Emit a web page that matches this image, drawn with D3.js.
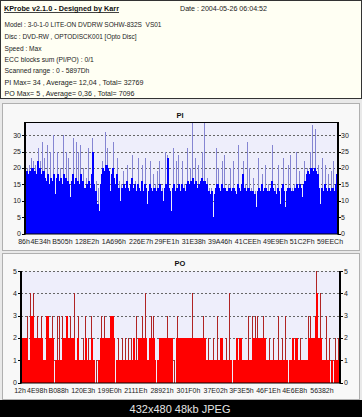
<!DOCTYPE html>
<html><head><meta charset="utf-8">
<script src="https://cdn.jsdelivr.net/npm/d3@7/dist/d3.min.js"></script>
<style>body{margin:0;background:#000}svg{display:block}</style>
</head><body><svg id="c" width="362" height="417"></svg>
<script>
// ---------- data ----------
const headerTitle = "KProbe v2.1.0 - Designed by Karr";
const headerDate = "Date : 2004-05-26 06:04:52";
const infoLines = [
  "Model : 3-0-1-0 LITE-ON DVDRW SOHW-832S  VS01",
  "Disc : DVD-RW , OPTODISCK001 [Opto Disc]",
  "Speed : Max",
  "ECC blocks sum (PI/PO) : 0/1",
  "Scanned range : 0 - 5897Dh",
  "PI Max= 34 , Average= 12,04 , Total= 32769",
  "PO Max= 5 , Average= 0,36 , Total= 7096"
];
const footerText = "432x480 48kb JPEG";

const piTitle = "PI";
const piValues = [
25,19,20,18,21,19,23,20,22,19,21,18,22,26,20,22,18,28,19,23,
17,16,27,18,15,25,17,16,30,18,12,17,25,18,16,20,17,15,30,18,
17,25,16,23,15,11,16,18,29,15,17,28,16,25,15,27,18,16,20,14,
14,17,15,26,16,14,18,29,25,15,13,16,9,14,7,15,18,22,20,19,
31,21,26,20,19,13,18,20,28,17,15,18,23,14,16,10,15,14,19,15,
14,16,21,14,13,15,17,24,14,15,16,13,15,23,14,13,16,21,13,15,
23,14,9,13,15,22,14,13,18,14,15,13,19,14,22,15,13,14,10,14,
25,15,24,23,14,13,7,14,26,15,13,22,14,24,15,13,15,22,14,15,
13,15,26,16,15,20,16,34,17,15,23,16,14,21,15,16,17,25,16,34,
16,15,17,13,14,12,14,13,5,12,14,26,15,20,14,13,15,22,14,24,
14,13,13,15,14,20,13,14,22,14,13,12,15,27,14,13,15,18,22,14,
15,13,28,14,20,13,14,13,17,12,13,8,13,23,14,13,15,18,13,14,
21,14,13,15,13,14,16,27,14,13,15,12,14,21,13,9,14,15,23,13,
8,13,14,21,14,24,13,14,13,15,14,25,15,14,19,15,14,11,15,22,
16,18,20,19,18,25,20,33,19,20,32,19,18,21,14,9,14,23,13,15,
21,14,13,18,14,13,19,14,22,13,15,18,21
];
const piYTicks = [0,5,10,15,20,25,30];
const piYMax = 34;
const piXLabels = ["86h","4E34h","B505h","128E2h","1A696h","226E7h","29FE1h","31E38h","39A46h","41CEEh","49E9Eh","51C2Fh","59EECh"];
const piSectorRange = [1300, 378000];

const poTitle = "PO";
const poValues = [
2,2,2,2,2,2,3,1,1,4,3,3,4,2,2,2,3,2,2,2,
3,2,1,1,1,3,3,3,2,2,2,3,2,0,1,1,3,1,3,1,
1,3,2,2,2,3,3,2,2,3,2,2,2,4,1,1,2,3,1,1,
1,1,2,1,3,2,1,2,1,1,3,2,1,1,0,1,0,1,1,2,
3,2,2,3,2,2,2,2,2,3,3,3,3,2,0,1,1,2,1,1,
1,2,1,1,2,1,1,2,1,1,2,1,2,2,1,3,1,2,2,2,
2,3,2,2,4,2,1,1,2,2,3,2,3,2,1,0,1,1,2,2,
2,2,2,2,2,2,3,2,2,2,2,2,0,1,0,2,3,2,2,2,
2,2,2,2,2,2,2,2,2,2,2,4,2,2,2,2,2,2,2,2,
2,2,3,2,2,1,1,2,1,1,1,1,2,1,1,1,3,1,1,2,
2,2,1,1,1,2,1,1,4,1,1,0,1,1,1,2,2,1,2,2,
2,1,1,1,1,1,1,3,1,1,1,3,2,2,3,2,3,2,2,2,
2,2,3,2,2,1,1,1,2,1,1,1,2,1,1,1,1,3,1,1,
1,2,1,1,3,1,1,0,1,1,1,2,2,1,2,2,2,1,1,2,
1,1,1,1,1,1,1,3,2,3,2,2,2,2,3,5,4,2,2,4,
2,1,1,1,1,3,1,1,2,0,1,1,0,1,2,1,1,2,1
];
const poYTicks = [0,1,2,3,4,5];
const poYMax = 5;
const poXLabels = ["12h","4E98h","B088h","120E3h","199E0h","2111Eh","28921h","301F0h","37E02h","3F3E5h","46F1Eh","4E6E8h","56382h"];
const poSectorRange = [1200, 374300];

// ---------- layout / style ----------
const FONT = "'Liberation Sans', Arial, sans-serif";
const infoWidths = [157, 132, 37, null, null, 139, 130];
const infoBaselines = [27.3, 39, 50.6, 62, 73.4, 84.8, 96.3];

const svg = d3.select("#c");
svg.append("rect").attr("width",362).attr("height",417).attr("fill","#e9e9e9");

svg.append("rect").attr("x",0.5).attr("y",0.5).attr("width",361).attr("height",98)
  .attr("fill","#fffff3").attr("stroke","#333").attr("stroke-width",1);
svg.append("text").attr("x",4).attr("y",10.7).attr("font-family",FONT).attr("font-size",7.5)
  .attr("font-weight","bold").attr("fill","#111").attr("textLength",115).attr("lengthAdjust","spacingAndGlyphs")
  .text(headerTitle);
svg.append("line").attr("x1",4).attr("x2",119).attr("y1",12.5).attr("y2",12.5).attr("stroke","#111").attr("stroke-width",0.8);
svg.append("text").attr("x",180).attr("y",10.7).attr("font-family",FONT).attr("font-size",7.2)
  .attr("fill","#222").attr("textLength",87).attr("lengthAdjust","spacingAndGlyphs").text(headerDate);
const info = svg.selectAll("text.info").data(infoLines).join("text").attr("class","info")
  .attr("x",4.5).attr("y",(d,i)=>infoBaselines[i]).attr("font-family",FONT).attr("font-size",7.2)
  .attr("fill","#222").style("white-space","pre").text(d=>d);
const nat = info.nodes().map(n=>n.getComputedTextLength());
const ratios = infoWidths.map((w,i)=>w ? w/nat[i] : null).filter(r=>r);
const avgRatio = d3.mean(ratios);
info.attr("textLength",(d,i)=>infoWidths[i] || nat[i]*avgRatio).attr("lengthAdjust","spacingAndGlyphs");

svg.append("rect").attr("x",0).attr("y",400).attr("width",362).attr("height",17).attr("fill","#000");
svg.append("text").attr("x",180).attr("y",413).attr("text-anchor","middle").attr("font-family",FONT)
  .attr("font-size",11).attr("fill","#e6e6e6").text(footerText);

function drawChart(o){
  const g = svg.append("g");
  g.append("rect").attr("x",o.panel[0]+0.5).attr("y",o.panel[1]+0.5).attr("width",o.panel[2]).attr("height",o.panel[3])
    .attr("fill","#f8f8f8").attr("stroke","#b0b0b0");
  g.append("text").attr("x",180).attr("y",o.titleY).attr("text-anchor","middle").attr("font-family",FONT)
    .attr("font-size",7.5).attr("font-weight","bold").attr("fill","#111").text(o.title);
  const y = d3.scaleLinear().domain([0,o.yMax]).range([o.b,o.t]);
  const xb = d3.scaleBand().domain(d3.range(o.values.length)).range([o.l,o.r]);
  const xs = d3.scaleLinear().domain(o.sectors).range([o.l,o.r]);
  g.append("rect").attr("x",o.l).attr("y",o.t).attr("width",o.r-o.l).attr("height",o.b-o.t).attr("fill","#eeeefb");
  g.selectAll("line.grid").data(o.yTicks.filter(v=>v>0)).join("line").attr("class","grid")
    .attr("x1",o.l).attr("x2",o.r).attr("y1",d=>Math.round(y(d))+0.5).attr("y2",d=>Math.round(y(d))+0.5)
    .attr("stroke","#666").attr("stroke-dasharray","2,2").attr("stroke-width",1);
  const v = o.values, n = v.length;
  const base = v.map((d,i)=>Math.max(Math.min(d, v[Math.max(0,i-1)]), Math.min(d, v[Math.min(n-1,i+1)])));
  g.selectAll("rect.spike").data(v).join("rect").attr("class","spike")
    .attr("x",(d,i)=>xb(i)).attr("width",xb.bandwidth()+0.05)
    .attr("y",d=>y(d)).attr("height",d=>o.b-y(d)).attr("fill",o.spikeColor).attr("shape-rendering","crispEdges");
  g.selectAll("rect.base").data(base).join("rect").attr("class","base")
    .attr("x",(d,i)=>xb(i)).attr("width",xb.bandwidth()+0.05)
    .attr("y",d=>y(d)).attr("height",d=>o.b-y(d)).attr("fill",o.color).attr("shape-rendering","crispEdges");
  g.append("line").attr("x1",o.l).attr("x2",o.l).attr("y1",o.t).attr("y2",o.b+1).attr("stroke","#000").attr("stroke-width",2);
  g.append("line").attr("x1",o.r).attr("x2",o.r).attr("y1",o.t).attr("y2",o.b+1).attr("stroke","#000").attr("stroke-width",2);
  g.append("line").attr("x1",o.l).attr("x2",o.r).attr("y1",o.b+0.5).attr("y2",o.b+0.5).attr("stroke","#000").attr("stroke-width",1);
  if(o.solidTop) g.append("line").attr("x1",o.l).attr("x2",o.r).attr("y1",o.t+0.5).attr("y2",o.t+0.5).attr("stroke","#000").attr("stroke-width",1);
  const tk = g.selectAll("g.tk").data(o.yTicks).join("g").attr("class","tk");
  tk.append("line").attr("x1",o.l-3).attr("x2",o.l).attr("y1",d=>Math.round(y(d))+0.5).attr("y2",d=>Math.round(y(d))+0.5).attr("stroke","#000");
  tk.append("line").attr("x1",o.r).attr("x2",o.r+3).attr("y1",d=>Math.round(y(d))+0.5).attr("y2",d=>Math.round(y(d))+0.5).attr("stroke","#000");
  tk.append("text").attr("x",o.l-4).attr("y",d=>y(d)+2.5).attr("text-anchor","end").attr("font-family",FONT)
    .attr("font-size",7).attr("fill","#222").text(d=>d);
  tk.append("text").attr("x",o.r+o.rightGap).attr("y",d=>y(d)+2.5).attr("font-family",FONT)
    .attr("font-size",7).attr("fill","#222").text(d=>d);
  g.selectAll("text.xl").data(o.xLabels).join("text").attr("class","xl")
    .attr("x",d=>xs(parseInt(d.replace("h",""),16))).attr("y",o.xLabY).attr("text-anchor","middle")
    .attr("font-family",FONT).attr("font-size",7).attr("fill","#222").text(d=>d);
}

drawChart({panel:[2,103,357,147], title:piTitle, titleY:117.5, values:piValues, yMax:piYMax, yTicks:piYTicks,
  xLabels:piXLabels, sectors:piSectorRange, l:25, r:338, t:122, b:233.5, xLabY:244, rightGap:3,
  color:"#0000ff", spikeColor:"#8585d2", solidTop:true});
drawChart({panel:[2,253,357,146], title:poTitle, titleY:266, values:poValues, yMax:poYMax, yTicks:poYTicks,
  xLabels:poXLabels, sectors:poSectorRange, l:21, r:340, t:271, b:382.5, xLabY:393, rightGap:4,
  color:"#ff0000", spikeColor:"#b02424", solidTop:false});
</script>
</body></html>
